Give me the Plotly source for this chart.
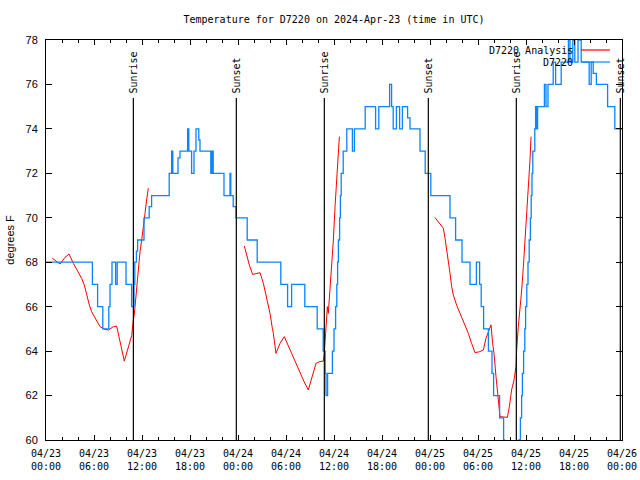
import plotly.graph_objects as go

# ---- data (hours since 2024-04-23 00:00 UTC) ----
obs_hours = [0.0, 5.8, 6.45, 7.1, 7.85, 8.0, 8.25, 8.7, 8.9, 10.0, 10.7, 11.0, 11.1, 11.3, 11.45,
             12.25, 12.9, 13.2, 15.4, 15.7, 15.85, 16.5, 16.75, 17.7, 17.85, 18.2, 18.5, 18.75, 19.1,
             19.25, 20.6, 20.75, 20.9, 22.25, 23.0, 23.1, 23.4, 23.75,
             25.15, 26.4, 29.35, 30.2, 30.7, 32.35, 33.9, 34.65, 34.9, 35.0, 35.2, 35.8, 36.0, 36.2,
             36.35, 36.45, 36.55, 36.7, 36.8, 36.9, 37.15, 37.6, 38.3, 38.55, 39.9, 41.2, 41.6, 42.95,
             43.2, 43.4, 43.8, 44.2, 44.55, 45.2, 45.5, 46.75, 47.4, 48.1,
             50.5, 51.2, 52.0, 53.0, 53.8, 54.2, 54.4, 54.7, 55.3, 55.75, 55.95, 56.7, 57.2, 57.3,
             59.1, 59.3, 59.45, 59.55, 59.7, 59.85, 59.95, 60.1, 60.25, 60.4, 60.55, 60.65, 60.75,
             60.85, 61.1, 61.2, 61.35, 61.45, 62.3, 62.5, 62.75, 63.4, 63.7, 64.4, 65.3, 65.5, 65.85,
             66.1, 66.5, 66.9, 67.9, 68.15, 68.4, 68.8, 70.2, 71.1, 72.0]
obs_temp = [68, 67, 66, 65, 66, 67, 68, 67, 68, 67, 66, 67, 68, 68.5, 69,
            70, 70.5, 71, 72, 73, 72, 72.7, 73, 74, 73, 72, 73, 74, 73.5,
            73, 72, 73, 72, 71, 72, 71, 70.5, 70,
            69, 68, 67, 66, 67, 66, 65, 64, 63, 62, 63, 64, 65, 66,
            67, 68, 69, 70, 71, 72, 73, 74, 73, 74, 75, 74, 75, 76,
            75, 74, 75, 74, 75, 74.5, 74, 73, 72, 71,
            70, 69, 68, 67, 68, 67, 66, 65, 64, 63, 62, 61, 60, 58,
            60, 61, 62, 63, 64, 65, 66, 67, 68, 69, 70, 71, 72,
            73, 74, 75, 74, 75, 76, 75, 76, 77, 76, 77, 78, 77, 78,
            77, 78, 77, 76, 77, 76.5, 76, 75, 74, 74]

an_hours = [0.79, 1.13, 1.75, 2.38, 2.88, 3.42, 3.92, 4.46, 4.79, 5.08, 5.42, 5.71, 6.13, 6.75,
            7.38, 7.79, 8.42, 8.83, 9.79, 10.29, 10.71, 10.92, 11.0, 11.13, 11.33, 11.54, 11.75,
            11.96, 12.17, 12.38, 12.58, 12.79, None,
            24.79, 25.08, 25.42, 25.83, 26.33, 26.75, 27.17, 27.58, 28.0, 28.29, 28.42, 28.75,
            29.25, 29.79, 30.5, 31.13, 31.75, 32.25, 32.79, 33.2, 33.75, 34.25, 34.67, 34.79,
            34.88, 35.0, 35.17, 35.29, 35.5, 35.71, 35.92, 36.13, 36.33, 36.42, 36.54, 36.67, None,
            48.6, 49.04, 49.46, 49.67, 49.88, 50.08, 50.29, 50.5, 50.71, 50.92, 51.33, 51.75, 52.17,
            52.58, 52.79, 53.2, 53.63, 54.17, 54.67, 55.0, 55.29, 55.5, 55.63, 55.83, 56.0, 56.25,
            56.42, 56.54, 56.75, 57.67, 57.92, 58.2, 58.5, 58.75, 58.83, 59.04, 59.25, 59.46, 59.67,
            59.88, 60.08, 60.29, 60.42, 60.5, 60.63]
an_temp = [68.18, 68.1, 67.92, 68.22, 68.37, 67.95, 67.65, 67.27, 66.97, 66.52, 66.07, 65.77, 65.47, 65.1,
           64.98, 64.95, 65.1, 65.13, 63.55, 64.2, 64.7, 65.4, 65.55, 66.0, 66.9, 67.8, 68.47,
           69.0, 69.75, 70.2, 70.8, 71.33, None,
           68.73, 68.33, 67.87, 67.45, 67.5, 67.53, 67.05, 66.45, 65.7, 65.03, 64.8, 63.9,
           64.35, 64.65, 64.05, 63.53, 63.0, 62.63, 62.25, 62.78, 63.45, 63.53, 63.55, 63.9,
           64.5, 65.1, 66.0, 65.7, 66.75, 67.8, 69.0, 70.5, 71.7, 72.45, 73.2, 73.65, None,
           70.02, 69.82, 69.67, 69.53, 69.08, 68.48, 68.1, 67.5, 66.9, 66.52, 66.07, 65.7, 65.4,
           65.03, 64.8, 64.35, 63.93, 63.97, 64.05, 64.58, 64.88, 65.1, 65.18, 64.35, 63.9, 62.85,
           62.33, 61.8, 61.05, 61.02, 61.5, 62.25, 62.7, 63.3, 64.05, 65.1, 65.8, 66.75, 67.8,
           69.0, 70.2, 71.25, 71.7, 72.6, 73.65]

sun_events = ["Sunrise", "Sunset", "Sunrise", "Sunset", "Sunrise", "Sunset"]
sun_hours = [10.92, 23.79, 34.79, 47.79, 58.79, 71.79]

x_tickvals = list(range(0, 73, 6))
x_ticktext = ["04/23<br>00:00", "04/23<br>06:00", "04/23<br>12:00", "04/23<br>18:00",
              "04/24<br>00:00", "04/24<br>06:00", "04/24<br>12:00", "04/24<br>18:00",
              "04/25<br>00:00", "04/25<br>06:00", "04/25<br>12:00", "04/25<br>18:00",
              "04/26<br>00:00"]

series_names = ["D7220 Analysis", "D7220"]
series_colors = ["#ff0000", "#0a84ff"]

MONO = "DejaVu Sans Mono"
SANS = "Liberation Sans"

fig = go.Figure()
fig.add_trace(go.Scatter(x=an_hours, y=an_temp, mode="lines", name=series_names[0],
                         line=dict(color=series_colors[0], width=1), connectgaps=False,
                         showlegend=False))
fig.add_trace(go.Scatter(x=obs_hours, y=obs_temp, mode="lines", name=series_names[1],
                         line=dict(color=series_colors[1], width=1.3, shape="hv"),
                         showlegend=False))

shapes = []
annotations = []
for ev, h in zip(sun_events, sun_hours):
    shapes.append(dict(type="line", xref="x", yref="paper", x0=h, x1=h, y0=0, y1=0.855,
                       line=dict(color="black", width=1.2)))
    annotations.append(dict(text=ev, x=h, xref="x", y=0.862, yref="paper", textangle=-90,
                            xanchor="center", yanchor="bottom", showarrow=False,
                            font=dict(family=MONO, size=10, color="black")))

# legend (gnuplot style: text right-aligned, sample to the right)
legend_y = [0.975, 0.945]
for name, col, ly in zip(series_names, series_colors, legend_y):
    annotations.append(dict(text=name, x=0.918, xref="paper", y=ly, yref="paper",
                            xanchor="right", yanchor="middle", showarrow=False,
                            font=dict(family=MONO, size=10, color="black")))
    shapes.append(dict(type="line", xref="paper", yref="paper", x0=0.929, x1=0.979,
                       y0=ly, y1=ly, line=dict(color=col, width=1.2)))

annotations.append(dict(text="degrees F", x=-0.063, xref="paper", y=0.5, yref="paper",
                        textangle=-90, xanchor="center", yanchor="middle", showarrow=False,
                        font=dict(family=SANS, size=11, color="black")))

fig.update_layout(
    width=640, height=480,
    margin=dict(l=46, r=18, t=40, b=40),
    paper_bgcolor="white", plot_bgcolor="white",
    title=dict(text="Temperature for D7220 on 2024-Apr-23 (time in UTC)",
               x=0.5, xref="paper", y=1 - 19 / 480, yref="container", yanchor="middle",
               font=dict(family=MONO, size=10, color="black")),
    shapes=shapes, annotations=annotations,
    xaxis=dict(range=[0, 72], tickvals=x_tickvals, ticktext=x_ticktext,
               showline=True, linecolor="black", linewidth=1, mirror="allticks",
               ticks="inside", ticklen=5, tickcolor="black", showgrid=False, zeroline=False,
               ticklabelstandoff=4, automargin=False,
               tickfont=dict(family=MONO, size=10, color="black"),
               minor=dict(dtick=2, tick0=0, ticks="inside", ticklen=3, tickcolor="black",
                          showgrid=False)),
    yaxis=dict(range=[60, 78], dtick=2, tick0=60,
               showline=True, linecolor="black", linewidth=1, mirror="allticks",
               ticks="inside", ticklen=6, tickcolor="black", showgrid=False, zeroline=False,
               ticklabelstandoff=5, automargin=False,
               tickfont=dict(family=SANS, size=11, color="black")),
)

fig.write_html("out.html", config={"displayModeBar": False},
               post_script="document.body.style.margin='0';")
